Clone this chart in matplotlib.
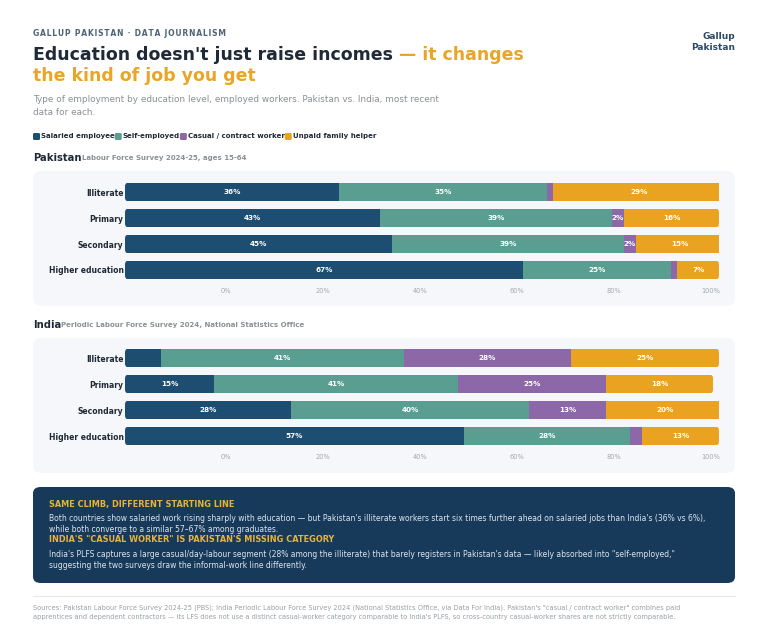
import matplotlib
matplotlib.use("Agg")
import matplotlib.pyplot as plt
import numpy as np
from matplotlib.patches import FancyBboxPatch

W, H = 768, 638

categories = ["Illiterate", "Primary", "Secondary", "Higher education"]
series = ["Salaried employee", "Self-employed", "Casual / contract worker", "Unpaid family helper"]
colors = ["#1d4e72", "#5a9e92", "#8c68a9", "#e9a321"]

pak_salaried = [36, 43, 45, 67]
pak_self = [35, 39, 39, 25]
pak_casual = [1, 2, 2, 1]
pak_unpaid = [29, 16, 15, 7]

ind_salaried = [6, 15, 28, 57]
ind_self = [41, 41, 40, 28]
ind_casual = [28, 25, 13, 2]
ind_unpaid = [25, 18, 20, 13]

# segments printed without a value label in the source: (series index, row index)
pak_unlabeled = [(2, 0), (2, 3)]
ind_unlabeled = [(0, 0), (2, 3)]

tick_vals = [0, 20, 40, 60, 80, 100]

DARK = "#1f2a36"
GOLD = "#e8a628"
GRAY = "#8a8f96"


def fx(px):
    return px / W


def fy(py):
    return 1 - py / H


fig = plt.figure(figsize=(W / 100, H / 100), dpi=100)
fig.patch.set_facecolor("white")

# header
fig.text(fx(33), fy(33), "\u200a".join("GALLUP PAKISTAN · DATA JOURNALISM"),
         fontsize=5.5, weight="bold", color="#4d6478", va="center")
fig.text(fx(735), fy(42), "Gallup\nPakistan", fontsize=6.5, weight="bold", color="#2c4a66",
         ha="right", va="center", linespacing=1.2)

t1 = fig.text(fx(33), fy(55), "Education doesn't just raise incomes ", fontsize=12.5,
              weight="bold", color=DARK, va="center")
fig.canvas.draw()
bb = t1.get_window_extent()
fig.text(bb.x1 / W, fy(55), "— it changes", fontsize=12.5, weight="bold", color=GOLD, va="center")
fig.text(fx(33), fy(76), "the kind of job you get", fontsize=12.5, weight="bold", color=GOLD, va="center")

fig.text(fx(33), fy(106), "Type of employment by education level, employed workers. Pakistan vs. India, most recent\ndata for each.",
         fontsize=6.4, color=GRAY, va="center", linespacing=1.55)

# legend
x = 33
for name, c in zip(series, colors):
    fig.patches.append(FancyBboxPatch((fx(x), fy(140)), fx(7), 7 / H, boxstyle="round,pad=0,rounding_size=0.002",
                                      transform=fig.transFigure, facecolor=c, edgecolor="none"))
    t = fig.text(fx(x + 8), fy(136), name, fontsize=5.0, weight="bold", color=DARK, va="center")
    fig.canvas.draw()
    x = t.get_window_extent().x1


def panel(top, bottom, ax_top, title, sub, data, unlabeled):
    fig.patches.append(FancyBboxPatch((fx(33), fy(bottom)), fx(702), (bottom - top) / H,
                                      boxstyle="round,pad=0,rounding_size=0.012",
                                      transform=fig.transFigure, facecolor="#f5f7fa", edgecolor="none",
                                      zorder=-5))
    tt = fig.text(fx(33), fy(top - 13), title, fontsize=7.2, weight="bold", color=DARK, va="center")
    fig.canvas.draw()
    fig.text(tt.get_window_extent().x1 / W, fy(top - 13), sub, fontsize=5.0, weight="bold",
             color=GRAY, va="center")

    ax = fig.add_axes([fx(125), fy(ax_top + 104), fx(594), 104 / H])
    ax.set_facecolor("none")
    y = np.arange(len(categories))
    left = np.zeros(len(categories))
    rows = [[] for _ in categories]
    for si, (vals, c) in enumerate(zip(data, colors)):
        vals = np.array(vals, dtype=float)
        bars = ax.barh(y, vals, left=left, height=0.72, color=c, edgecolor="none")
        for i, (b, v, l) in enumerate(zip(bars, vals, left)):
            rows[i].append(b)
            if (si, i) not in unlabeled:
                ax.text(l + v / 2, b.get_y() + b.get_height() / 2, f"{v:.0f}%", ha="center",
                        va="center", fontsize=5.2, weight="bold", color="white")
        left += vals
    # rounded ends for each row
    for yi, tot in zip(y, left):
        clip = FancyBboxPatch((0, yi - 0.36), tot, 0.72, boxstyle="round,pad=0,rounding_size=0.6",
                              mutation_aspect=0.25, transform=ax.transData, facecolor="none",
                              edgecolor="none", visible=False)
        ax.add_patch(clip)
        for b in rows[yi]:
            b.set_clip_path(clip)
    ax.set_xlim(0, 100)
    ax.set_ylim(3.5, -0.5)
    ax.set_yticks(y)
    ax.set_yticklabels(categories, fontsize=5.5, weight="bold", color=DARK)
    ax.tick_params(axis="y", length=0, pad=1)
    ax.set_xticks([])
    for s in ax.spines.values():
        s.set_visible(False)

    # percentage scale drawn as a twin axis
    tw = ax.twiny()
    tw.xaxis.set_ticks_position("bottom")
    tw.set_xlim(-20.8, 101.8)
    tw.set_xticks(tick_vals)
    tw.set_xticklabels([f"{v}%" for v in tick_vals], fontsize=4.8, color="#a3a8ae")
    tw.tick_params(axis="x", length=0, pad=3.5)
    for s in tw.spines.values():
        s.set_visible(False)
    return ax


panel(171, 306, 179, "Pakistan", "Labour Force Survey 2024-25, ages 15-64",
      [pak_salaried, pak_self, pak_casual, pak_unpaid], pak_unlabeled)
panel(338, 473, 345, "India", "Periodic Labour Force Survey 2024, National Statistics Office",
      [ind_salaried, ind_self, ind_casual, ind_unpaid], ind_unlabeled)

# insight box
fig.patches.append(FancyBboxPatch((fx(33), fy(583)), fx(702), 96 / H,
                                  boxstyle="round,pad=0,rounding_size=0.01",
                                  transform=fig.transFigure, facecolor="#173a5a", edgecolor="none"))
fig.text(fx(49), fy(504), "SAME CLIMB, DIFFERENT STARTING LINE", fontsize=5.9, weight="bold",
         color="#e6b43c", va="center")
fig.text(fx(49), fy(524), "Both countries show salaried work rising sharply with education — but Pakistan's illiterate workers start six times further ahead on salaried jobs than India's (36% vs 6%),\nwhile both converge to a similar 57–67% among graduates.",
         fontsize=5.5, color="#dde5ee", va="center", linespacing=1.4)
fig.text(fx(49), fy(540), "INDIA'S \"CASUAL WORKER\" IS PAKISTAN'S MISSING CATEGORY", fontsize=5.9,
         weight="bold", color="#e6b43c", va="center")
fig.text(fx(49), fy(560), "India's PLFS captures a large casual/day-labour segment (28% among the illiterate) that barely registers in Pakistan's data — likely absorbed into \"self-employed,\"\nsuggesting the two surveys draw the informal-work line differently.",
         fontsize=5.5, color="#dde5ee", va="center", linespacing=1.4)

# footer
fig.add_artist(plt.Line2D([fx(33), fx(735)], [fy(596), fy(596)], color="#e6e8eb", linewidth=0.8))
fig.text(fx(33), fy(612), "Sources: Pakistan Labour Force Survey 2024-25 (PBS); India Periodic Labour Force Survey 2024 (National Statistics Office, via Data For India). Pakistan's \"casual / contract worker\" combines paid\napprentices and dependent contractors — its LFS does not use a distinct casual-worker category comparable to India's PLFS, so cross-country casual-worker shares are not strictly comparable.",
         fontsize=4.8, color="#9aa0a6", va="center", linespacing=1.6)

fig.savefig("out.png", dpi=100, facecolor="white")
